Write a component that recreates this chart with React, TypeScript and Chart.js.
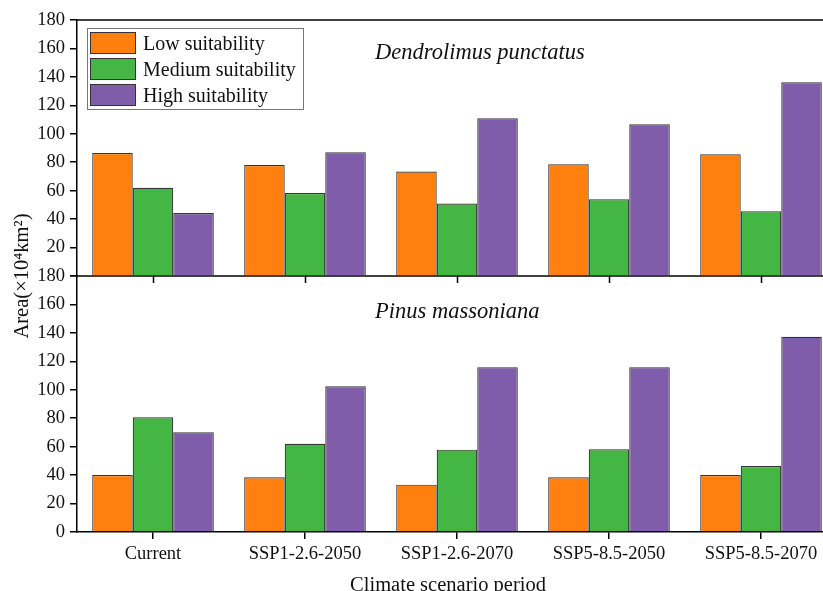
import React, { useEffect, useRef } from 'react';
import { Chart, registerables } from 'chart.js';

Chart.register(...registerables);

const categories = ['Current', 'SSP1-2.6-2050', 'SSP1-2.6-2070', 'SSP5-8.5-2050', 'SSP5-8.5-2070'];
const seriesNames = ['Low suitability', 'Medium suitability', 'High suitability'];
const speciesNames = ['Dendrolimus punctatus', 'Pinus massoniana'];

const dendroLow = [86.5, 78, 73.4, 78.5, 85.6];
const dendroMedium = [62.1, 58.4, 50.9, 53.9, 45.5];
const dendroHigh = [44.3, 87, 110.9, 106.7, 136.2];

const pinusLow = [40.1, 38.5, 33.3, 38.5, 40.1];
const pinusMedium = [80.7, 62.1, 57.9, 58.1, 46.4];
const pinusHigh = [70.1, 102.5, 115.8, 115.8, 137.3];

const yMin = 0;
const yMax = 180;
const yStep = 20;

const yTitle = 'Area(×10⁴km²)';
const xTitle = 'Climate scenario period';

const colors = ['#FF800E', '#44B644', '#7F5DAA'];
const stackKeys = ['low', 'medium', 'high'];
const FONT = "'Liberation Serif', 'Times New Roman', serif";

const decorPlugin = {
  id: 'decor',
  afterDraw(chart: any) {
    const { ctx, chartArea: ca, scales } = chart;
    const yTop = scales.yTop;
    const yBottom = scales.yBottom;
    const xs = scales.x;
    ctx.save();
    // top frame line
    ctx.strokeStyle = '#000';
    ctx.lineWidth = 1.5;
    ctx.beginPath();
    ctx.moveTo(ca.left, ca.top);
    ctx.lineTo(ca.right, ca.top);
    ctx.stroke();
    // boundary line between panels
    const by = yTop.bottom;
    ctx.beginPath();
    ctx.moveTo(ca.left, by);
    ctx.lineTo(ca.right, by);
    ctx.stroke();
    // tick marks of top panel's x axis
    for (let i = 0; i < categories.length; i++) {
      const px = Math.round(xs.getPixelForValue(i)) + 0.5;
      ctx.beginPath();
      ctx.lineWidth = 1.5;
      ctx.moveTo(px, by);
      ctx.lineTo(px, by + 7);
      ctx.stroke();
    }
    // species titles
    ctx.fillStyle = '#111';
    ctx.font = `italic 22.5px ${FONT}`;
    ctx.textAlign = 'left';
    ctx.textBaseline = 'alphabetic';
    ctx.fillText(speciesNames[0], ca.left + 298, yTop.top + 39);
    ctx.fillText(speciesNames[1], ca.left + 298, yBottom.top + 42);

    // legend
    const lx = ca.left + 10;
    const ly = ca.top + 8;
    ctx.strokeStyle = '#777';
    ctx.lineWidth = 1;
    ctx.strokeRect(lx + 0.5, ly + 0.5, 216, 81);
    ctx.font = `20px ${FONT}`;
    for (let i = 0; i < 3; i++) {
      const ds = chart.data.datasets[i];
      const sy = ca.top + 12 + i * 26;
      ctx.fillStyle = ds.backgroundColor;
      ctx.fillRect(lx + 3, sy, 46, 22);
      ctx.strokeStyle = '#333';
      ctx.strokeRect(lx + 3.5, sy + 0.5, 45, 21);
      ctx.fillStyle = '#111';
      ctx.fillText(ds.label, lx + 56, sy + 18);
    }

    // y title
    ctx.save();
    ctx.translate(23, by);
    ctx.rotate(-Math.PI / 2);
    ctx.textAlign = 'center';
    ctx.textBaseline = 'middle';
    ctx.font = `20.5px ${FONT}`;
    ctx.fillStyle = '#111';
    ctx.fillText(yTitle, 0, 0);
    ctx.restore();

    // x title
    ctx.textAlign = 'center';
    ctx.textBaseline = 'alphabetic';
    ctx.font = `20.5px ${FONT}`;
    ctx.fillStyle = '#111';
    ctx.fillText(xTitle, 448, ca.bottom + 59);
    ctx.restore();
  },
};

export default function App() {
  const canvasRef = useRef<HTMLCanvasElement | null>(null);

  useEffect(() => {
    const canvas = canvasRef.current;
    if (!canvas) return;
    const topSeries = [dendroLow, dendroMedium, dendroHigh];
    const bottomSeries = [pinusLow, pinusMedium, pinusHigh];
    const datasets: any[] = [];
    topSeries.forEach((d, i) => {
      datasets.push({
        label: seriesNames[i],
        data: d,
        yAxisID: 'yTop',
        stack: stackKeys[i],
        backgroundColor: colors[i],
        borderColor: '#333',
        borderWidth: 1.2,
        categoryPercentage: 0.8,
        barPercentage: 1.0,
      });
    });
    bottomSeries.forEach((d, i) => {
      datasets.push({
        label: seriesNames[i] + ' ',
        data: d,
        yAxisID: 'yBottom',
        stack: stackKeys[i],
        backgroundColor: colors[i],
        borderColor: '#333',
        borderWidth: 1.2,
        categoryPercentage: 0.8,
        barPercentage: 1.0,
      });
    });

    const tickFont = { family: FONT, size: 18.5 };
    const yCommon = (weight: number, hideZero: boolean) => ({
      type: 'linear',
      position: 'left',
      stack: 'panels',
      stackWeight: 1,
      weight,
      stacked: false,
      min: yMin,
      max: yMax,
      ticks: {
        stepSize: yStep,
        autoSkip: false,
        font: tickFont,
        color: '#111',
        padding: 5,
        callback: (v: any) => (hideZero && v === 0 ? '' : String(v)),
      },
      grid: { drawOnChartArea: false, drawTicks: true, tickLength: 7, color: '#000', lineWidth: 1.5 },
      border: { display: true, color: '#000', width: 1.5 },
      afterFit: (s: any) => {
        s.width = 77;
      },
    });

    const chart = new Chart(canvas, {
      type: 'bar',
      data: { labels: categories, datasets },
      options: {
        responsive: false,
        animation: false,
        layout: { padding: { top: 20, right: 3, left: 0, bottom: 0 } },
        plugins: {
          legend: { display: false },
          tooltip: { enabled: false },
        },
        scales: {
          x: {
            type: 'category',
            offset: true,
            grid: { display: true, offset: false, drawOnChartArea: false, drawTicks: true, tickLength: 7, color: '#000', lineWidth: 1.5 },
            border: { display: true, color: '#000', width: 1.5 },
            ticks: { font: tickFont, color: '#111', padding: 4, maxRotation: 0, autoSkip: false },
            afterFit: (s: any) => {
              s.height = 59;
            },
          },
          yTop: yCommon(1, true),
          yBottom: yCommon(0, false),
        } as any,
      },
      plugins: [decorPlugin],
    } as any);
    return () => chart.destroy();
  }, []);

  return (
    <div style={{ position: 'absolute', left: 0, top: 0, width: 823, height: 591, overflow: 'hidden', background: '#fff' }}>
      <canvas ref={canvasRef} width={840} height={591} style={{ display: 'block' }} />
    </div>
  );
}
